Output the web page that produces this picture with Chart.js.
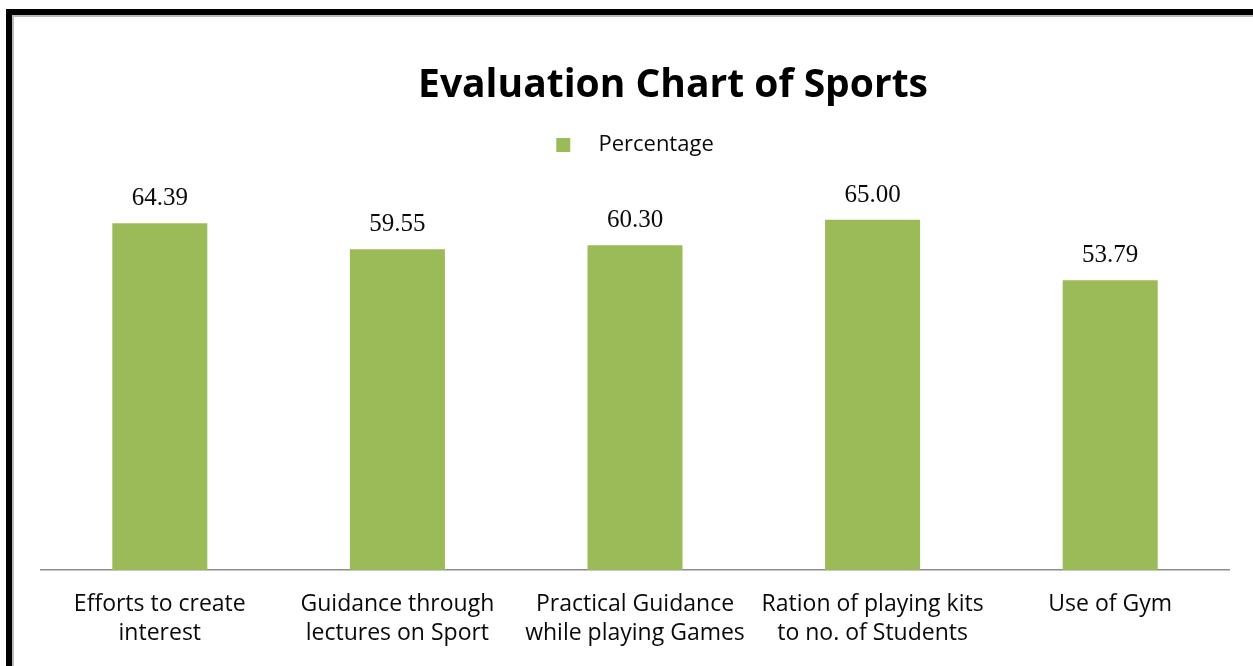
<!DOCTYPE html>
<html>
<head>
<meta charset="utf-8">
<script src="https://cdn.jsdelivr.net/npm/chart.js@4"></script>
<style>
  html, body { margin: 0; padding: 0; background: #fff; }
  #wrap { position: relative; width: 1253px; height: 666px; overflow: hidden; }
  #chart { position: absolute; left: 0; top: 0; }
  /* picture frame: thick black edge on top/left, thin grey line inside it */
  .frame { position: absolute; left: 6px; top: 9px; width: 1400px; height: 800px;
           border-left: 6px solid #000; border-top: 6px solid #000; }
  .frame-inner { position: absolute; left: 12px; top: 15px; width: 1400px; height: 800px;
                 border-left: 2px solid #b9b9b9; border-top: 2px solid #b9b9b9; }
</style>
</head>
<body>
<div id="wrap">
  <canvas id="chart" width="1253" height="666"></canvas>
  <div class="frame"></div>
  <div class="frame-inner"></div>
</div>
<script>
// categories and values
const categories = [
    ['Efforts to create', 'interest'],
    ['Guidance through', 'lectures on Sport'],
    ['Practical Guidance', 'while playing Games'],
    ['Ration of playing kits', 'to no. of Students'],
    ['Use of Gym']
];
const percentage = [64.39, 59.55, 60.30, 65.00, 53.79];
const chartTitle = 'Evaluation Chart of Sports';
const seriesName = 'Percentage';

const FONT = '"Open Sans", Lato, sans-serif';
const NUM_FONT = '"Liberation Serif", "DejaVu Serif", serif';
const GREEN = '#9bbb59';
const INK = '#0a0a0a';

// value labels above each bar
const valueLabels = {
    id: 'valueLabels',
    afterDatasetsDraw(chart) {
        const ctx = chart.ctx;
        const meta = chart.getDatasetMeta(0);
        ctx.save();
        ctx.font = '25px ' + NUM_FONT;
        ctx.fillStyle = INK;
        ctx.textAlign = 'center';
        ctx.textBaseline = 'alphabetic';
        meta.data.forEach((bar, i) => {
            ctx.fillText(percentage[i].toFixed(2), bar.x, bar.y - 18);
        });
        ctx.restore();
    }
};

// title sits a bit right of the plot centre in the original
const offsetTitle = {
    id: 'offsetTitle',
    afterDraw(chart) {
        const ctx = chart.ctx;
        ctx.save();
        ctx.font = 'bold 39px ' + FONT;
        ctx.fillStyle = '#000';
        ctx.textAlign = 'center';
        ctx.textBaseline = 'alphabetic';
        ctx.fillText(chartTitle, 673, 97);
        ctx.restore();
    }
};

const bg = {
    id: 'bg',
    beforeDraw(chart) {
        const ctx = chart.ctx;
        ctx.save();
        ctx.fillStyle = '#fff';
        ctx.fillRect(0, 0, chart.width, chart.height);
        ctx.restore();
    }
};

new Chart(document.getElementById('chart'), {
    type: 'bar',
    data: {
        labels: categories,
        datasets: [{
            label: seriesName,
            data: percentage,
            backgroundColor: GREEN,
            borderWidth: 0,
            barPercentage: 0.4,
            categoryPercentage: 1.0
        }]
    },
    options: {
        responsive: false,
        animation: false,
        layout: { padding: { top: 122, left: 41, right: 24, bottom: 6 } },
        plugins: {
            title: { display: false },
            tooltip: { enabled: false },
            legend: {
                display: true,
                position: 'top',
                labels: {
                    font: { family: FONT, size: 22 },
                    color: INK,
                    boxWidth: 14,
                    boxHeight: 14,
                    padding: 12,
                    generateLabels(chart) {
                        const items = Chart.defaults.plugins.legend.labels.generateLabels(chart);
                        // wider gap between swatch and text, as in the original
                        items.forEach(it => { it.text = '   ' + it.text; });
                        return items;
                    }
                }
            }
        },
        scales: {
            x: {
                grid: { display: false },
                border: { display: true, color: '#8c8c8c', width: 1.5 },
                ticks: {
                    font: { family: FONT, size: 23, lineHeight: '29px' },
                    color: INK,
                    padding: 12,
                    maxRotation: 0,
                    autoSkip: false
                }
            },
            y: {
                display: false,
                min: 0,
                max: 75
            }
        }
    },
    plugins: [bg, valueLabels, offsetTitle]
});
</script>
</body>
</html>
